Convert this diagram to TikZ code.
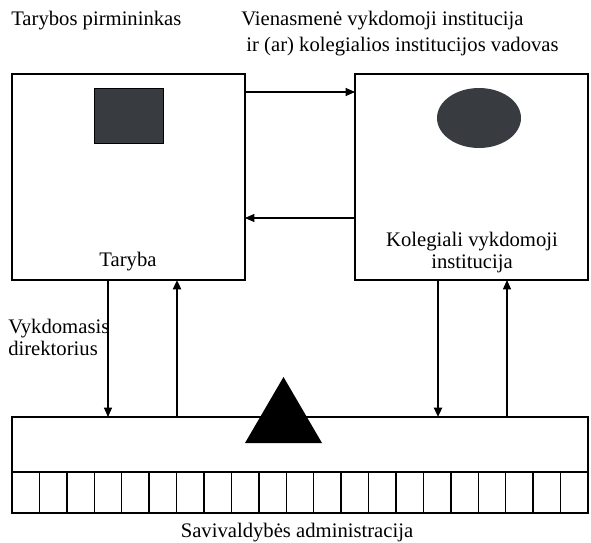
\documentclass[tikz,border=0pt]{standalone}
\usepackage{fontspec}
\setmainfont{Liberation Serif}
\usetikzlibrary{arrows.meta}
\usetikzlibrary{positioning,calc,shapes.geometric}
\definecolor{darkfill}{HTML}{383B3F}
\tikzset{
    block/.style={
        draw,
        rectangle,
        line width=1.1pt,
        inner sep=0pt,
        outer sep=0pt
    },
    thinarrow/.style={
        draw,
        -{Triangle[length=7pt, width=6pt]},
        line width=0.8pt
    },
    thickarrow/.style={
        draw,
        -{Triangle[length=7pt, width=6pt]},
        line width=1.6pt
    }
}
\tikzset{
  every node/.style={font=\fontsize{15.5pt}{16.5pt}\selectfont}
}

\begin{document}
\begin{tikzpicture}[x=0.75pt, y=-0.75pt]
  \useasboundingbox (0,0) rectangle (591,542);

  % Top labels
  \node[anchor=base west, inner sep=0pt] (pirmininkas) at (11,26) {Tarybos pirmininkas};
  \node[anchor=base west, inner sep=0pt, align=left, font=\fontsize{15.5pt}{19pt}\selectfont] (vadovas) at (241,51)
    {Vienasmenė vykdomoji institucija\\\ ir (ar) kolegialios institucijos vadovas};

  % Main blocks
  \node[block, minimum width=174.75pt, minimum height=154.5pt] (taryba) at (128.5,177) {};
  \node[block, minimum width=174.75pt, minimum height=154.5pt] (kolegiali) at (471.5,177) {};
  \node[block, minimum width=432pt, minimum height=41.25pt] (admin) at (300,444.5) {};

  % Symbols inside the blocks
  \node[draw=black, fill=darkfill, line width=0.6pt, minimum width=51.75pt, minimum height=41.25pt, inner sep=0pt] (pirmsym) at (128.5,115.5) {};
  \node[ellipse, fill=darkfill, minimum width=63pt, minimum height=45pt, inner sep=0pt] (vadsym) at (479,118) {};
  \fill (283.5,377) -- (322,443) -- (245,443) -- cycle;

  % Texts inside the blocks
  \node[anchor=base, inner sep=0pt] (tarybatxt) at (128,266) {Taryba};
  \node[anchor=base, inner sep=0pt, align=center] (kolegialitxt) at (472,268)
    {Kolegiali vykdomoji\\institucija};
  \node[anchor=base west, inner sep=0pt, align=left] (direktorius) at (8,355)
    {Vykdomasis\\direktorius};

  % Cells of the administration
  \foreach \i in {0,...,20} {
    \draw[line width=1.1pt] (12+\i*27.43,472) rectangle ++(27.43,41);
  }
  \node[anchor=base, inner sep=0pt] (admintxt) at (297,537) {Savivaldybės administracija};

  % Horizontal connections
  \draw[thinarrow] (taryba.east |- 0,92) -- (kolegiali.west |- 0,92);
  \draw[thinarrow] (kolegiali.west |- 0,218) -- (taryba.east |- 0,218);

  % Vertical connections
  \draw[thinarrow] (taryba.south -| 108,0) -- (admin.north -| 108,0);
  \draw[thickarrow] (admin.north -| 177,0) -- (taryba.south -| 177,0);
  \draw[thickarrow] (kolegiali.south -| 438,0) -- (admin.north -| 438,0);
  \draw[thinarrow] (admin.north -| 507,0) -- (kolegiali.south -| 507,0);
\end{tikzpicture}
\end{document}
